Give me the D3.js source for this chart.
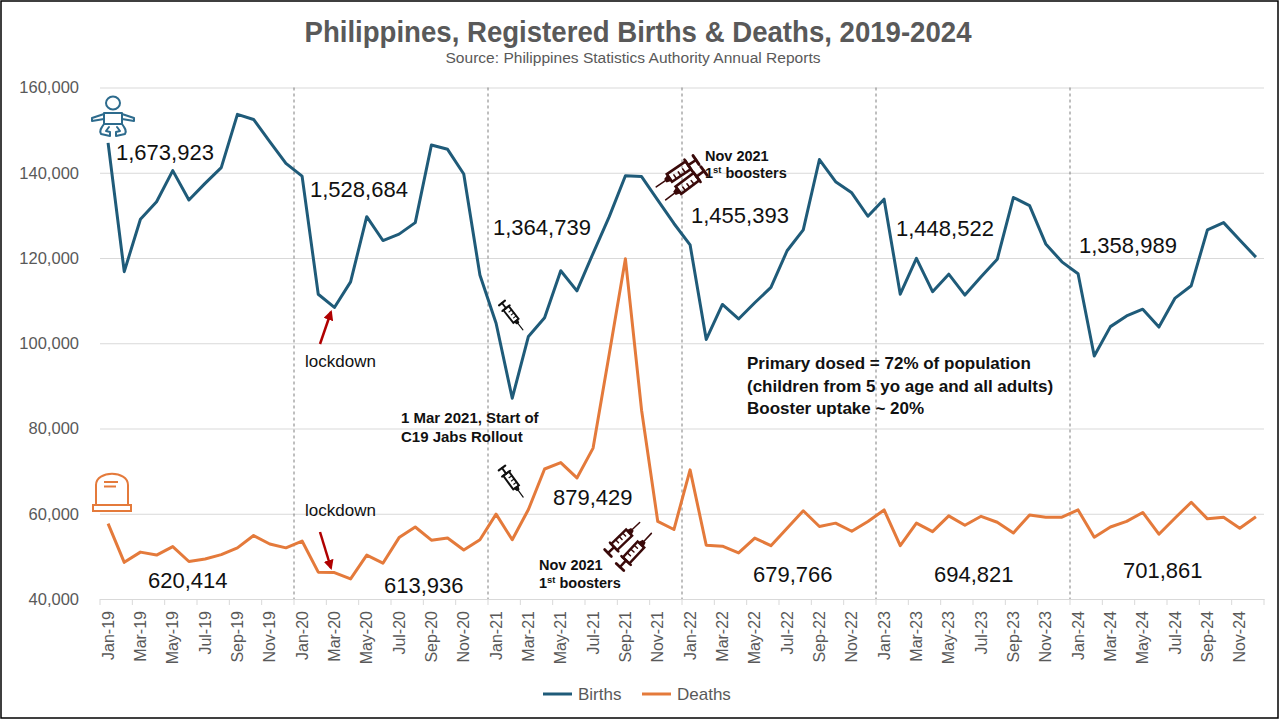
<!DOCTYPE html>
<html>
<head>
<meta charset="utf-8">
<script src="https://cdnjs.cloudflare.com/ajax/libs/d3/7.8.5/d3.min.js"></script>
<style>
  body { margin: 0; background: #fff; }
  svg text { font-family: "Liberation Sans", Arial, sans-serif; }
</style>
</head>
<body>
<div id="chart"></div>
<script>
// month labels Jan-19 .. Dec-24
var monthNames = ["Jan","Feb","Mar","Apr","May","Jun","Jul","Aug","Sep","Oct","Nov","Dec"];
var years = ["19","20","21","22","23","24"];
var months = [];
years.forEach(function(y){ monthNames.forEach(function(m){ months.push(m + "-" + y); }); });

// registered births per month
var births = [
  147000,116800,129100,133200,140500,133600,137500,141200,153700,152500,147300,142200,
  139200,111500,108400,114400,129700,124100,125600,128300,146500,145500,139700,116000,
  104700,87100,101600,106000,117000,112300,121100,129700,139300,139100,133600,128100,
  123100,100900,109100,105700,109500,113100,121700,126600,143100,137900,135300,129800,
  133800,111500,119900,112100,116200,111300,115600,119700,134200,132300,123300,119100,
  116300,97000,103900,106400,108000,103800,110600,113500,126600,128300,124200,120200
];
// registered deaths per month
var deaths = [
  57700,48600,51000,50300,52300,48800,49400,50400,52000,54900,52900,52000,
  53600,46300,46200,44700,50300,48400,54400,56900,53800,54300,51500,53900,
  59900,53900,61000,70500,72000,68400,75400,97500,119800,84300,58200,56300,
  70300,52600,52400,50800,54300,52500,56600,60700,57000,57800,55900,58200,
  60900,52500,57800,55800,59500,57300,59400,58000,55500,59700,59200,59200,
  60900,54500,56900,58200,60300,55200,59000,62700,58800,59200,56600,59300
];
// annual totals printed on the chart
var birthTotals = ["1,673,923","1,528,684","1,364,739","1,455,393","1,448,522","1,358,989"];
var deathTotals = ["620,414","613,936","879,429","679,766","694,821","701,861"];
var yTicks = [40000,60000,80000,100000,120000,140000,160000];

var W = 1280, H = 720;
var blue = "#1f5b79", orange = "#e47a3b", grey = "#595959";

var svg = d3.select("#chart").append("svg")
  .attr("width", W).attr("height", H);

svg.append("rect").attr("x",1).attr("y",1).attr("width",W-3).attr("height",H-3)
  .attr("fill","#fff").attr("stroke","#000").attr("stroke-width",1.5);

var x = d3.scaleBand().domain(months).range([100, 1264]).paddingInner(0).paddingOuter(0);
var y = d3.scaleLinear().domain([40000,160000]).range([599, 87.5]);
var cx = function(m){ return x(m) + x.bandwidth()/2; };

// title
svg.append("text").attr("x",638).attr("y",42).attr("text-anchor","middle")
  .attr("font-family","Roboto").attr("font-weight",700).attr("font-size",29)
  .attr("textLength",667).attr("lengthAdjust","spacingAndGlyphs")
  .attr("fill",grey).text("Philippines, Registered Births & Deaths, 2019-2024");
svg.append("text").attr("x",633).attr("y",63).attr("text-anchor","middle")
  .attr("font-family","Roboto").attr("font-size",14)
  .attr("textLength",375).attr("lengthAdjust","spacingAndGlyphs")
  .attr("fill",grey).text("Source: Philippines Statistics Authority Annual Reports");

// gridlines + y labels
var yAxis = d3.axisLeft(y).tickValues(yTicks).tickSize(-(1264-100)).tickFormat(d3.format(","));
var gy = svg.append("g").attr("transform","translate(100,0)").call(yAxis);
gy.select(".domain").remove();
gy.selectAll(".tick line").attr("stroke","#d9d9d9").attr("stroke-width",1);
gy.selectAll(".tick text").attr("x",-21).attr("font-size",16.5).attr("fill",grey)
  .attr("font-family","Liberation Sans");

// x axis
var xAxis = d3.axisBottom(x).tickValues(months.filter(function(d,i){ return i%2==0; })).tickSize(0);
var gx = svg.append("g").attr("transform","translate(0,599)").call(xAxis);
gx.select(".domain").attr("stroke","#d9d9d9");
gx.selectAll(".tick text")
  .attr("transform","rotate(-90)")
  .attr("text-anchor","end").attr("x",-12).attr("y",0).attr("dy","0.35em")
  .attr("font-size",16).attr("fill",grey).attr("font-family","Liberation Sans");
// tick marks at category boundaries, every 2 months
svg.append("g").selectAll("line")
  .data(months.filter(function(d,i){ return i%2==0; }).map(function(m){ return x(m); }).concat([1264]))
  .enter().append("line")
  .attr("x1",function(d){return d;}).attr("x2",function(d){return d;})
  .attr("y1",599).attr("y2",605).attr("stroke","#d9d9d9");

// dashed year separators
svg.append("g").selectAll("line")
  .data(months.filter(function(d,i){ return i>0 && i%12==0; }))
  .enter().append("line")
  .attr("x1",function(d){return x(d);}).attr("x2",function(d){return x(d);})
  .attr("y1",y(160000)).attr("y2",y(40000))
  .attr("stroke","#7f7f7f").attr("stroke-width",1).attr("stroke-dasharray","3,3");

// lines
var series = [
  {name:"Births", values:births, color:blue},
  {name:"Deaths", values:deaths, color:orange}
];
var line = d3.line().x(function(d,i){ return cx(months[i]); }).y(function(d){ return y(d); });
svg.append("g").selectAll("path").data(series).enter().append("path")
  .attr("d",function(s){ return line(s.values); })
  .attr("fill","none").attr("stroke",function(s){ return s.color; })
  .attr("stroke-width",3).attr("stroke-linejoin","round");

// annual totals
var birthLabelPos = [[116,160],[310,197],[493,235],[691,223],[896,236],[1079,253]];
var deathLabelPos = [[148,588],[384,593],[553,505],[753,582],[934,582],[1123,578]];
svg.append("g").selectAll("text").data(birthTotals).enter().append("text")
  .attr("x",function(d,i){ return birthLabelPos[i][0]; })
  .attr("y",function(d,i){ return birthLabelPos[i][1]; })
  .attr("font-size",22).attr("fill","#111").text(function(d){ return d; });
svg.append("g").selectAll("text").data(deathTotals).enter().append("text")
  .attr("x",function(d,i){ return deathLabelPos[i][0]; })
  .attr("y",function(d,i){ return deathLabelPos[i][1]; })
  .attr("font-size",22).attr("fill","#111").text(function(d){ return d; });

// lockdown notes
svg.append("text").attr("x",305).attr("y",367).attr("font-size",17).attr("fill","#111").text("lockdown");
svg.append("text").attr("x",305).attr("y",516).attr("font-size",17).attr("fill","#111").text("lockdown");
var defs = svg.append("defs");
defs.append("marker").attr("id","arr").attr("viewBox","0 0 10 10").attr("refX",8).attr("refY",5)
  .attr("markerWidth",4).attr("markerHeight",4).attr("orient","auto")
  .append("path").attr("d","M0,0L10,5L0,10z").attr("fill","#b00000");
svg.append("line").attr("x1",320).attr("y1",344).attr("x2",331).attr("y2",312)
  .attr("stroke","#b00000").attr("stroke-width",2.5).attr("marker-end","url(#arr)");
svg.append("line").attr("x1",320).attr("y1",532).attr("x2",331).attr("y2",568)
  .attr("stroke","#b00000").attr("stroke-width",2.5).attr("marker-end","url(#arr)");

// bold notes
function note(lines, x0, y0, size, gap){
  var t = svg.append("text").attr("font-weight",700).attr("font-size",size).attr("fill","#111");
  lines.forEach(function(l,i){
    var ts = t.append("tspan").attr("x",x0).attr("y",y0 + i*gap);
    if (l.indexOf("1st") == 0) {
      ts.text("1");
      ts.append("tspan").attr("font-size",size*0.65).attr("baseline-shift","super").text("st");
      ts.append("tspan").text(" boosters");
    } else ts.text(l);
  });
}
note(["1 Mar 2021, Start of","C19 Jabs Rollout"], 401, 423, 15, 19);
note(["Nov 2021","1st boosters"], 705, 161, 14.5, 17);
note(["Nov 2021","1st boosters"], 539, 570, 14.5, 18);
note(["Primary dosed = 72% of population","(children from 5 yo age and all adults)","Booster uptake ~ 20%"], 747, 369, 17, 22.5);

// syringe icon: plunger at (x0,y0), rotated by angle, length len
function syringe(x0, y0, ang, len, col){
  var k = len/36;
  var g = svg.append("g").attr("transform","translate("+x0+","+y0+") rotate("+ang+") scale("+k+")")
    .attr("stroke",col).attr("fill","none").attr("stroke-linecap","round");
  g.append("line").attr("x1",0).attr("y1",-4).attr("x2",0).attr("y2",4).attr("stroke-width",2.2);
  g.append("line").attr("x1",0).attr("y1",0).attr("x2",7).attr("y2",0).attr("stroke-width",2);
  g.append("line").attr("x1",7).attr("y1",-5).attr("x2",7).attr("y2",5).attr("stroke-width",2);
  g.append("rect").attr("x",7).attr("y",-3.5).attr("width",17).attr("height",7).attr("stroke-width",2);
  [12,16,20].forEach(function(t){
    g.append("line").attr("x1",t).attr("y1",-3.5).attr("x2",t).attr("y2",0).attr("stroke-width",1.2);
  });
  g.append("path").attr("d","M24,-2L27,-1L27,1L24,2z").attr("fill",col).attr("stroke-width",1.5);
  g.append("line").attr("x1",27).attr("y1",0).attr("x2",36).attr("y2",0).attr("stroke-width",1.2);
}
syringe(502,303,52,34,"#111");
syringe(502,468,54,36,"#111");
syringe(696,160,146,48,"#3a0a0a");
syringe(704,171,143,48,"#3a0a0a");
syringe(608,553,-44,44,"#3a0a0a");
syringe(620,567,-47,46,"#3a0a0a");

// baby icon
var baby = svg.append("g").attr("stroke","#2d6b8d").attr("stroke-width",2).attr("fill","none")
  .attr("stroke-linejoin","round").attr("stroke-linecap","round");
baby.append("ellipse").attr("cx",113).attr("cy",103).attr("rx",7).attr("ry",6.5);
baby.append("path").attr("d","M104,113 L122,113 L122,124 L104,124 Z");
baby.append("path").attr("d","M104,114 L92,118 L92,121 L104,119");
baby.append("path").attr("d","M122,114 L134,118 L134,121 L122,119");
baby.append("path").attr("d","M104,124 C101,128 99,131 101,134 L110,136 L110,132 L106,131 L109,127");
baby.append("path").attr("d","M122,124 C125,128 127,131 125,134 L116,136 L116,132 L120,131 L117,127");
baby.append("line").attr("x1",104).attr("y1",124).attr("x2",122).attr("y2",124);

// tombstone icon
var tomb = svg.append("g").attr("stroke",orange).attr("stroke-width",2).attr("fill","none");
tomb.append("path").attr("d","M96,505 L96,485 C96,470 128,470 128,485 L128,505");
tomb.append("rect").attr("x",93).attr("y",505).attr("width",38).attr("height",6);
tomb.append("line").attr("x1",104).attr("y1",482).attr("x2",118).attr("y2",482);
tomb.append("line").attr("x1",104).attr("y1",486.5).attr("x2",116).attr("y2",486.5);

// legend
var legX = [543, 642];
var leg = svg.append("g").selectAll("g").data(series).enter().append("g")
  .attr("transform",function(d,i){ return "translate("+legX[i]+",694)"; });
leg.append("line").attr("x1",0).attr("x2",29).attr("y1",0).attr("y2",0)
  .attr("stroke",function(d){return d.color;}).attr("stroke-width",3);
leg.append("text").attr("x",35).attr("y",0).attr("dy","0.35em").attr("font-size",17)
  .attr("fill",grey).text(function(d){ return d.name; });
</script>
</body>
</html>
